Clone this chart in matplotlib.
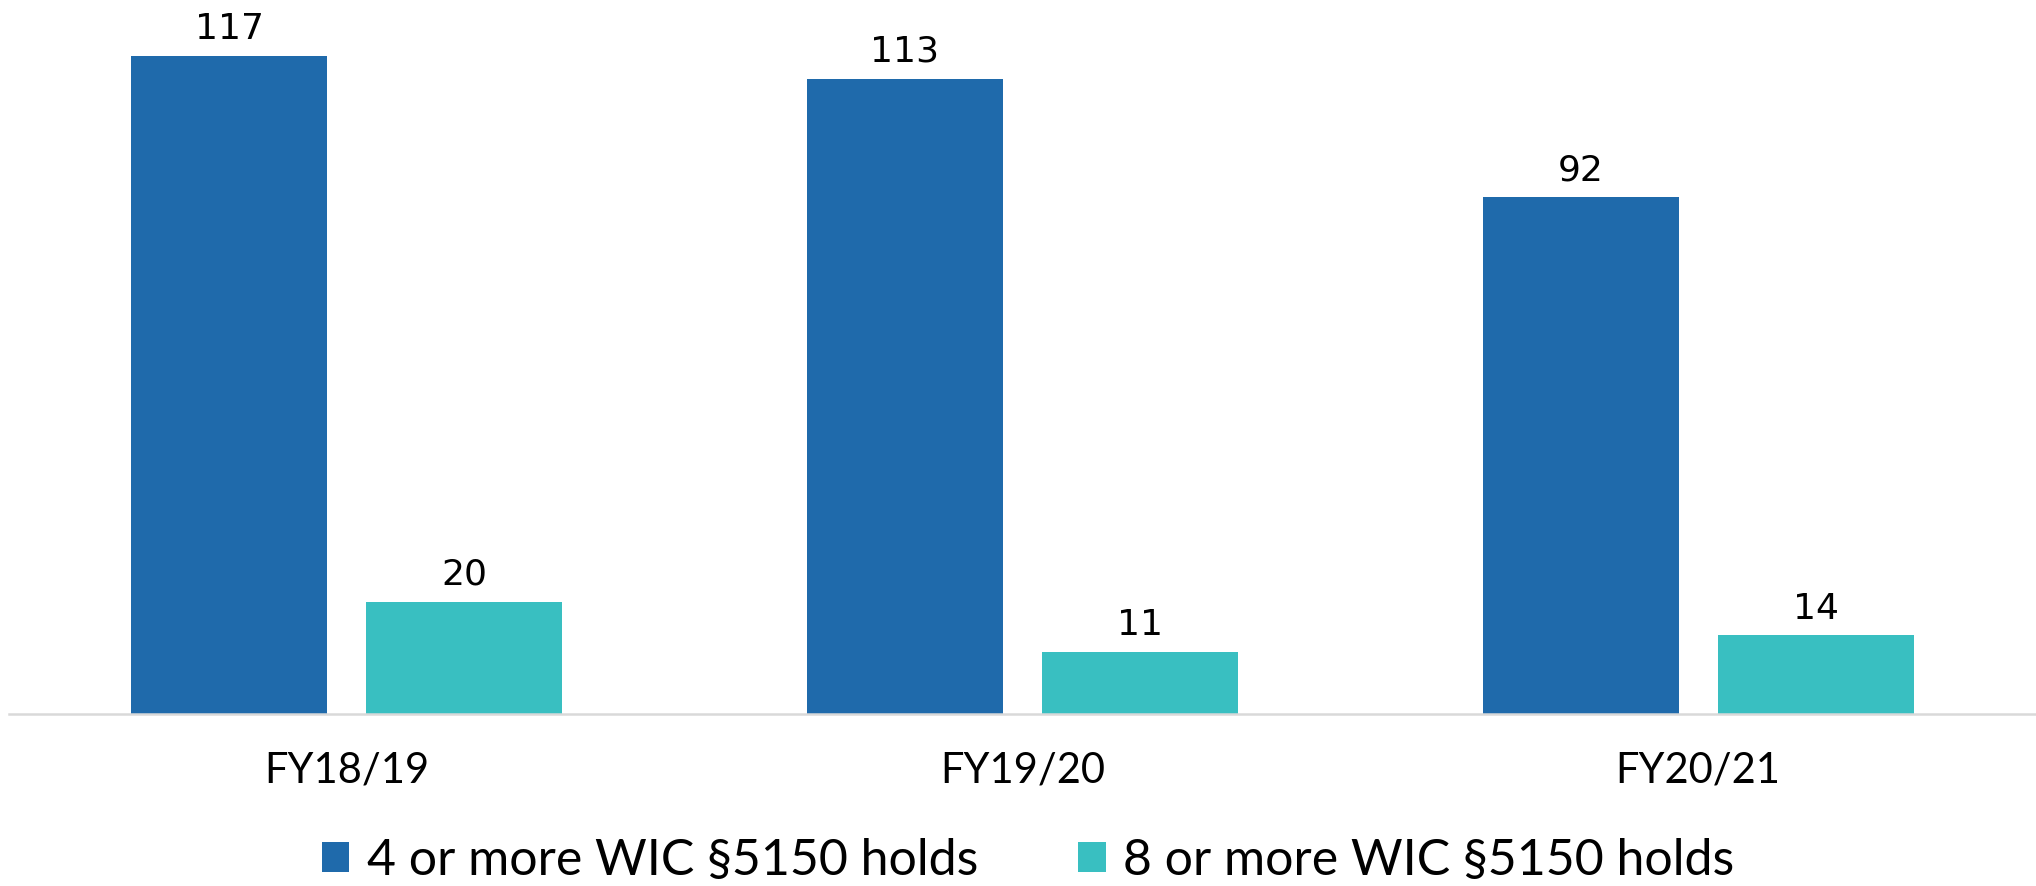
import matplotlib
matplotlib.use("Agg")
import matplotlib.pyplot as plt
import numpy as np

# data
years = ["FY18/19", "FY19/20", "FY20/21"]
four_or_more = [117, 113, 92]
eight_or_more = [20, 11, 14]
series_names = ["4 or more WIC §5150 holds", "8 or more WIC §5150 holds"]

blue = "#1F6AAB"
teal = "#39BFC1"
label_font = ["Lato", "DejaVu Sans"]

fig = plt.figure(figsize=(20.36, 8.86), dpi=100)
ax = fig.add_axes([9 / 2036, 172 / 886, 2027 / 2036, 714 / 886])

x = np.arange(len(years))
width = 0.29
offset = 0.174

bars1 = ax.bar(x - offset, four_or_more, width, color=blue, label=series_names[0])
bars2 = ax.bar(x + offset, eight_or_more, width, color=teal, label=series_names[1])

for bars in (bars1, bars2):
    ax.bar_label(bars, padding=7, fontsize=26, family="DejaVu Sans", color="black")

ax.set_xlim(-0.5, 2.5)
ax.set_ylim(0, 127)
ax.set_yticks([])
ax.set_xticks(x)
ax.set_xticklabels(years, fontsize=30, family=label_font)
ax.tick_params(axis="x", length=0, pad=27)

for side in ("top", "left", "right"):
    ax.spines[side].set_visible(False)
ax.spines["bottom"].set_color("#d9d9d9")
ax.spines["bottom"].set_linewidth(1.8)

fig.legend(loc="center", bbox_to_anchor=(0.505, 1 - 861 / 886), ncol=2,
           frameon=False, prop={"family": label_font, "size": 36},
           handlelength=0.55, handleheight=0.55, handletextpad=0.35,
           columnspacing=2.0, borderpad=0)

fig.savefig("out.png", dpi=100)
